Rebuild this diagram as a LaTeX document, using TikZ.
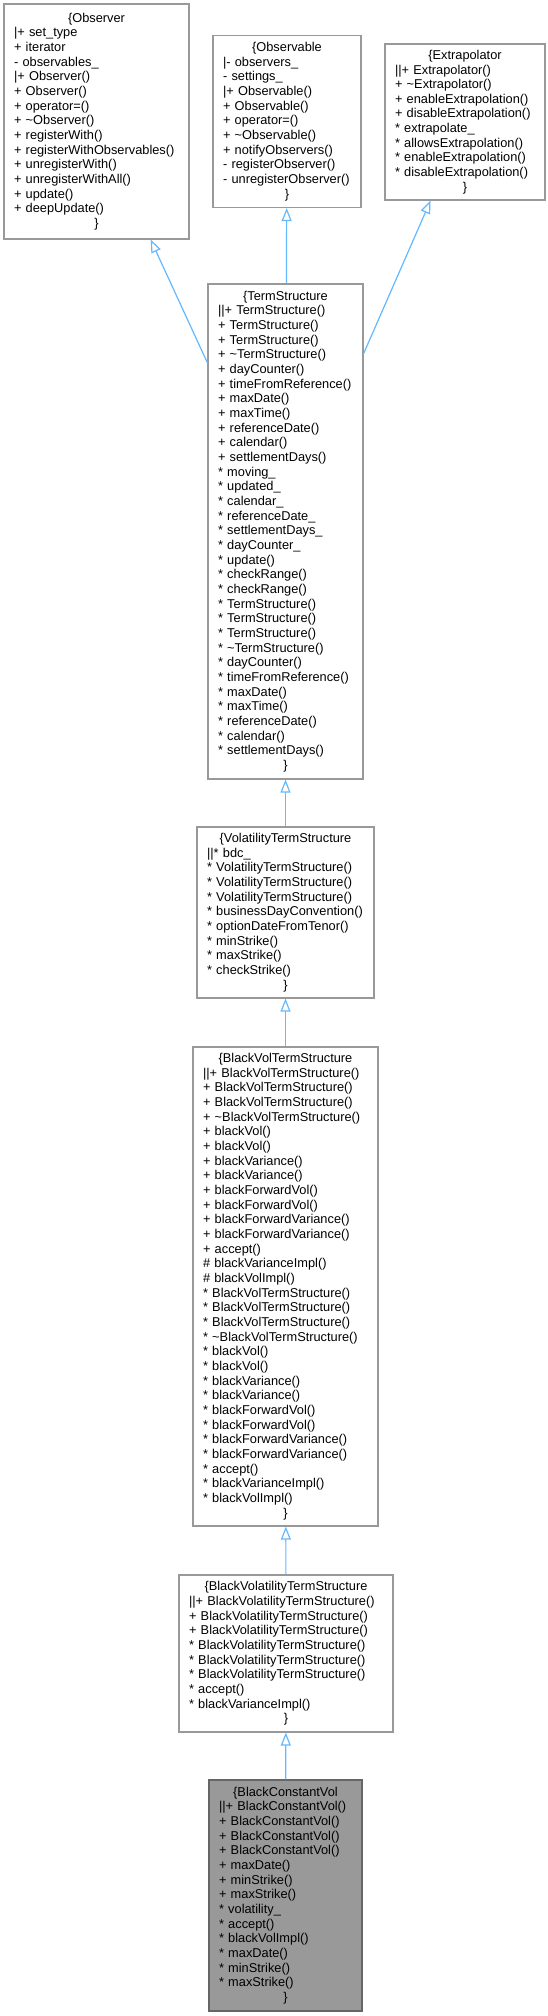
\documentclass[tikz,border=0pt]{standalone}
\usepackage{fontspec}
\setmainfont{Liberation Sans}
\usetikzlibrary{arrows.meta}
\definecolor{boxline}{HTML}{999999}
\definecolor{curfill}{HTML}{999999}
\definecolor{curline}{HTML}{666666}
\definecolor{edgeblue}{HTML}{63B8FF}
\newcommand{\hd}[1]{\makebox[\linewidth]{#1}}
\newcommand{\tl}{\textasciitilde}

\begin{document}
\begin{tikzpicture}[
    x=1pt, y=-1pt,
    every node/.style={font=\fontsize{12.8}{14.66}\selectfont},
    cls/.style={draw=boxline, line width=1.1pt, fill=white, inner sep=0pt, align=left},
    cur/.style={cls, draw=curline, fill=curfill},
    inherit/.style={-{Triangle[length=13pt, width=10pt, fill=white]}, edgeblue, line width=1.2pt},
]
\useasboundingbox (0,0) rectangle (548,2016);

% base classes
\node[cls, minimum width=185pt, minimum height=235pt, text width=165pt] (obs) at (96.5,121.5)
  {\hd{\{Observer}\\
   |+ set\_type\\
   + iterator\\
   - observables\_\\
   |+ Observer()\\
   + Observer()\\
   + operator=()\\
   + \tl Observer()\\
   + registerWith()\\
   + registerWithObservables()\\
   + unregisterWith()\\
   + unregisterWithAll()\\
   + update()\\
   + deepUpdate()\\
   \hd{\}}};
\node[cls, minimum width=148pt, minimum height=172pt, text width=128pt] (obsbl) at (287,121.5)
  {\hd{\{Observable}\\
   |- observers\_\\
   - settings\_\\
   |+ Observable()\\
   + Observable()\\
   + operator=()\\
   + \tl Observable()\\
   + notifyObservers()\\
   - registerObserver()\\
   - unregisterObserver()\\
   \hd{\}}};
\node[cls, minimum width=160pt, minimum height=156pt, text width=140pt] (extra) at (465,122)
  {\hd{\{Extrapolator}\\
   ||+ Extrapolator()\\
   + \tl Extrapolator()\\
   + enableExtrapolation()\\
   + disableExtrapolation()\\
   {*} extrapolate\_\\
   {*} allowsExtrapolation()\\
   {*} enableExtrapolation()\\
   {*} disableExtrapolation()\\
   \hd{\}}};

\node[cls, minimum width=155pt, minimum height=495pt, text width=135pt] (ts) at (285.5,531.5)
  {\hd{\{TermStructure}\\
   ||+ TermStructure()\\
   + TermStructure()\\
   + TermStructure()\\
   + \tl TermStructure()\\
   + dayCounter()\\
   + timeFromReference()\\
   + maxDate()\\
   + maxTime()\\
   + referenceDate()\\
   + calendar()\\
   + settlementDays()\\
   {*} moving\_\\
   {*} updated\_\\
   {*} calendar\_\\
   {*} referenceDate\_\\
   {*} settlementDays\_\\
   {*} dayCounter\_\\
   {*} update()\\
   {*} checkRange()\\
   {*} checkRange()\\
   {*} TermStructure()\\
   {*} TermStructure()\\
   {*} TermStructure()\\
   {*} \tl TermStructure()\\
   {*} dayCounter()\\
   {*} timeFromReference()\\
   {*} maxDate()\\
   {*} maxTime()\\
   {*} referenceDate()\\
   {*} calendar()\\
   {*} settlementDays()\\
   \hd{\}}};

\node[cls, minimum width=177pt, minimum height=171pt, text width=157pt] (vts) at (285.5,912.5)
  {\hd{\{VolatilityTermStructure}\\
   ||{*} bdc\_\\
   {*} VolatilityTermStructure()\\
   {*} VolatilityTermStructure()\\
   {*} VolatilityTermStructure()\\
   {*} businessDayConvention()\\
   {*} optionDateFromTenor()\\
   {*} minStrike()\\
   {*} maxStrike()\\
   {*} checkStrike()\\
   \hd{\}}};

\node[cls, minimum width=185pt, minimum height=479pt, text width=165pt] (bvts) at (285.5,1286.5)
  {\hd{\{BlackVolTermStructure}\\
   ||+ BlackVolTermStructure()\\
   + BlackVolTermStructure()\\
   + BlackVolTermStructure()\\
   + \tl BlackVolTermStructure()\\
   + blackVol()\\
   + blackVol()\\
   + blackVariance()\\
   + blackVariance()\\
   + blackForwardVol()\\
   + blackForwardVol()\\
   + blackForwardVariance()\\
   + blackForwardVariance()\\
   + accept()\\
   \# blackVarianceImpl()\\
   \# blackVolImpl()\\
   {*} BlackVolTermStructure()\\
   {*} BlackVolTermStructure()\\
   {*} BlackVolTermStructure()\\
   {*} \tl BlackVolTermStructure()\\
   {*} blackVol()\\
   {*} blackVol()\\
   {*} blackVariance()\\
   {*} blackVariance()\\
   {*} blackForwardVol()\\
   {*} blackForwardVol()\\
   {*} blackForwardVariance()\\
   {*} blackForwardVariance()\\
   {*} accept()\\
   {*} blackVarianceImpl()\\
   {*} blackVolImpl()\\
   \hd{\}}};

\node[cls, minimum width=214pt, minimum height=157pt, text width=194pt] (bvolts) at (286,1653.5)
  {\hd{\{BlackVolatilityTermStructure}\\
   ||+ BlackVolatilityTermStructure()\\
   + BlackVolatilityTermStructure()\\
   + BlackVolatilityTermStructure()\\
   {*} BlackVolatilityTermStructure()\\
   {*} BlackVolatilityTermStructure()\\
   {*} BlackVolatilityTermStructure()\\
   {*} accept()\\
   {*} blackVarianceImpl()\\
   \hd{\}}};

% the class itself
\node[cur, minimum width=153pt, minimum height=231pt, text width=133pt] (bcv) at (285.5,1895.5)
  {\hd{\{BlackConstantVol}\\
   ||+ BlackConstantVol()\\
   + BlackConstantVol()\\
   + BlackConstantVol()\\
   + BlackConstantVol()\\
   + maxDate()\\
   + minStrike()\\
   + maxStrike()\\
   {*} volatility\_\\
   {*} accept()\\
   {*} blackVolImpl()\\
   {*} maxDate()\\
   {*} minStrike()\\
   {*} maxStrike()\\
   \hd{\}}};

\draw[inherit] (ts) -- (obs);
\draw[inherit] (ts) -- (obsbl);
\draw[inherit] (ts) -- (extra);
\draw[inherit] (vts) -- (ts);
\draw[inherit] (bvts) -- (vts);
\draw[inherit] (bvolts) -- (bvts);
\draw[inherit] (bcv) -- (bvolts);
\end{tikzpicture}
\end{document}
